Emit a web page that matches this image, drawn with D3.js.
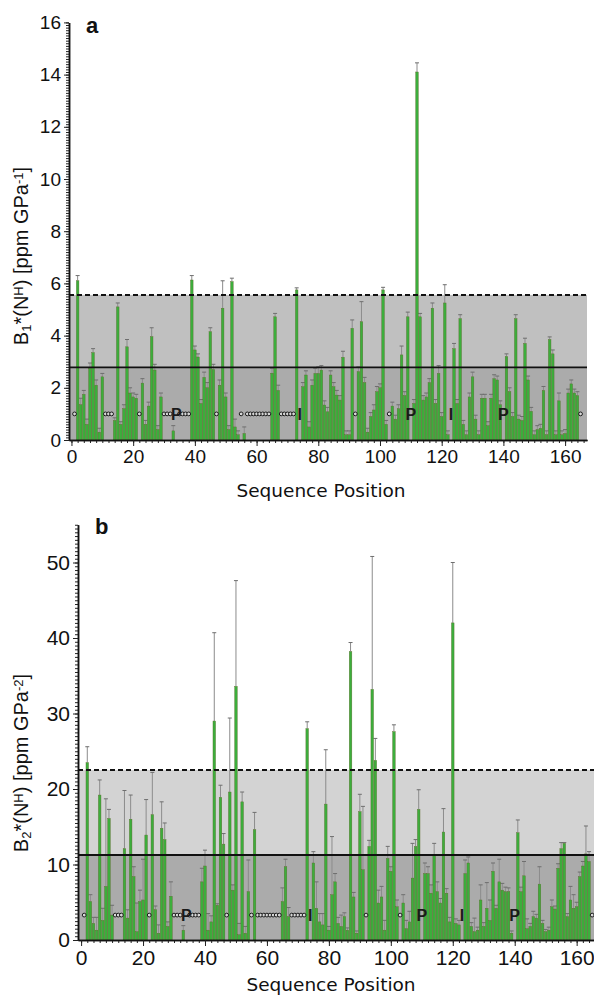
<!DOCTYPE html>
<html>
<head>
<meta charset="utf-8">
<script src="https://cdn.jsdelivr.net/npm/d3@7"></script>
<style>
  body { margin: 0; background: #fff; }
  text { font-family: "Liberation Sans", Arial, sans-serif; }
</style>
</head>
<body>
<div id="chart"></div>
<script>
// residue numbers 1..165
const positions = d3.range(1, 166);

// residues without data (drawn as small circles) and special residues
const noDataPositions = [1, 11, 12, 13, 22, 30, 31, 32, 35, 36, 37, 38, 47, 55,
    57, 58, 59, 60, 61, 62, 63, 64, 68, 69, 70, 71, 72, 92, 103, 165];
const markPositions = [34, 74, 110, 123, 140];
const markLabels = ['P', 'I', 'P', 'I', 'P'];

// B1* values, index 0 = residue 1
const b1Values = [
    null, 6.10, 1.35, 1.75, 0.60, 2.75, 3.35, 2.10, 0.30, 2.42,
    null, null, null, 0.75, 5.10, 0.60, 1.20, 3.57, 1.80, 1.65,
    1.60, null, 2.18, 0.60, 1.30, 3.96, 2.68, 0.40, 1.65, null,
    null, null, 0.35, null, null, null, null, null, 6.13, 3.45,
    3.18, 1.40, 2.40, 2.00, 4.15, 2.70, null, 2.10, 5.05, 1.65,
    0.40, 6.07, 0.50, 0.20, null, 0.25, null, null, null, null,
    null, null, null, null, 2.56, 4.72, 1.90, null, null, null,
    null, null, 5.75, null, 2.04, 2.49, 0.50, 2.10, 2.55, 2.55,
    2.68, 1.34, 1.08, 2.49, 2.04, 1.72, 1.53, 3.17, 0.20, 0.20,
    4.28, null, 2.62, 4.53, 2.20, 0.30, 0.90, 1.15, 1.85, 2.00,
    5.75, 0.60, null, 1.30, 0.80, 1.20, 3.26, 1.70, 4.72, null,
    1.40, 14.10, 4.72, 1.53, 1.65, 2.20, 5.05, 1.40, 2.55, 0.90,
    5.25, 0.20, null, 3.50, 1.40, 4.65, 0.60, 0.20, 1.65, 2.42,
    0.80, 0.20, 1.60, 1.60, 0.55, 1.60, 2.35, 2.30, 1.35, null,
    3.20, 1.85, 0.90, 4.65, 0.80, 0.75, 3.70, 2.30, 1.10, 0.20,
    0.40, 0.45, 1.90, 0.20, 3.85, 3.30, 0.20, 1.50, 0.20, 0.25,
    1.80, 2.15, 1.80, 1.70, null
];
const b1Errors = [
    null, 0.20, 0.25, 0.15, 0.20, 0.20, 0.15, 0.20, 0.15, 0.13,
    null, null, null, 0.10, 0.15, 0.10, 0.15, 0.28, 0.20, 0.15,
    0.15, null, 0.17, 0.15, 0.15, 0.34, 0.22, 0.15, 0.15, null,
    null, null, 0.20, null, null, null, null, null, 0.17, 0.15,
    0.12, 0.15, 0.20, 0.20, 0.15, 0.20, null, 0.20, 1.05, 0.15,
    0.15, 0.13, 0.30, 0.15, null, 0.25, null, null, null, null,
    null, null, null, null, 0.19, 0.13, 0.20, null, null, null,
    null, null, 0.08, null, 0.16, 0.16, 0.20, 0.20, 0.20, 0.25,
    0.17, 0.16, 0.17, 0.16, 0.16, 0.18, 0.17, 0.23, 0.15, 0.15,
    0.32, null, 0.18, 0.77, 0.20, 0.15, 0.15, 0.20, 0.20, 0.15,
    0.10, 0.15, null, 0.15, 0.15, 0.15, 0.34, 0.15, 0.18, null,
    0.15, 0.35, 0.13, 0.17, 0.15, 0.15, 0.20, 0.15, 0.30, 0.15,
    0.70, 0.15, null, 0.20, 0.15, 0.15, 0.15, 0.15, 0.15, 0.18,
    0.15, 0.15, 0.15, 0.15, 0.15, 0.15, 0.15, 0.15, 0.15, null,
    0.10, 0.15, 0.15, 0.15, 0.15, 0.15, 0.20, 0.15, 0.15, 0.15,
    0.15, 0.15, 0.15, 0.15, 0.10, 0.15, 0.15, 0.30, 0.15, 0.15,
    0.15, 0.15, 0.15, 0.15, null
];

// B2* values
const b2Values = [
    null, 23.5, 5.1, 2.2, 1.3, 19.2, 2.6, 7.1, 16.1, 3.3,
    null, null, null, 12.1, 2.9, 16.0, 8.4, 1.1, 5.1, 5.3,
    13.9, null, 16.6, 4.0, 0.9, 14.8, 13.3, 1.8, 5.8, null,
    null, null, 1.3, null, null, null, null, null, 7.7, 9.8,
    1.3, 2.4, 29.0, 4.6, 18.9, 12.7, null, 19.6, 6.6, 33.6,
    0.7, 18.3, 0.9, 6.4, null, 14.6, null, null, null, null,
    null, null, null, null, 5.1, 9.7, 3.1, null, null, null,
    null, null, 28.0, null, 10.2, 4.2, 2.4, 2.0, 18.0, 1.3,
    6.0, 7.7, 2.2, 1.8, 3.1, 1.3, 38.2, 5.7, 0.9, 17.0,
    9.3, null, 12.4, 33.2, 23.8, 4.9, 5.7, 1.3, 10.8, 9.1,
    27.6, 4.4, null, 4.9, 1.5, 2.4, 8.2, 12.4, 17.3, null,
    8.8, 8.8, 6.2, 11.3, 6.4, 4.9, 14.3, 6.2, 2.4, 42.0,
    2.2, 2.0, null, 8.8, 10.2, 1.8, 1.1, 1.3, 5.3, 1.8,
    4.2, 2.6, 9.1, 4.2, 7.7, 6.6, 6.4, 6.4, 0.9, null,
    14.2, 6.4, 8.5, 1.5, 1.8, 3.1, 2.9, 7.4, 2.2, 1.1,
    1.3, 4.4, 4.1, 9.5, 12.1, 12.8, 3.1, 5.3, 4.2, 4.4,
    8.4, 9.8, 11.4, 10.4, null
];
const b2Errors = [
    null, 2.1, 0.9, 0.8, 1.7, 2.0, 1.6, 11.6, 1.2, 1.3,
    null, null, null, 7.7, 1.1, 3.2, 1.3, 3.8, 1.5, 5.4,
    4.7, null, 5.6, 0.5, 1.1, 3.5, 2.2, 0.6, 1.9, null,
    null, null, 0.6, null, null, null, null, null, 1.8, 2.1,
    2.2, 0.8, 11.7, 0.2, 1.6, 1.4, null, 9.8, 0.7, 14.0,
    1.5, 1.3, 0.9, 4.2, null, 2.3, null, null, null, null,
    null, null, null, null, 1.8, 1.0, 1.2, null, null, null,
    null, null, 0.9, null, 1.5, 3.5, 1.1, 1.5, 7.2, 0.5,
    7.7, 1.1, 0.8, 1.5, 0.5, 0.3, 1.2, 0.6, 0.3, 2.3,
    8.4, null, 0.8, 17.6, 2.9, 1.7, 1.4, 1.3, 1.6, 0.6,
    0.9, 0.9, null, 1.1, 1.1, 1.4, 4.6, 0.9, 2.6, null,
    1.4, 0.9, 1.1, 1.5, 1.3, 0.6, 3.1, 0.6, 0.6, 8.0,
    0.6, 0.6, null, 1.8, 0.8, 0.5, 1.8, 0.4, 2.0, 0.5,
    3.4, 2.7, 1.1, 0.4, 3.0, 0.9, 0.6, 0.5, 0.3, null,
    1.7, 0.6, 1.9, 1.3, 0.4, 0.7, 0.5, 2.3, 0.4, 0.3,
    0.4, 0.9, 0.4, 0.6, 0.8, 0.1, 0.4, 1.8, 1.8, 0.6,
    0.6, 0.6, 3.7, 1.3, null
];

// mean (solid line) and twice the mean (dashed line)
const b1Mean = 2.78;
const b2Mean = 11.26;

const width = 594, height = 997;

const svg = d3.select('#chart').append('svg')
    .attr('width', width)
    .attr('height', height);

function drawPanel(opt) {
    let g = svg.append('g');

    let x = d3.scaleLinear().domain(opt.xDomain).range(opt.xRange);
    let y = d3.scaleLinear().domain(opt.yDomain).range(opt.yRange);

    let left = opt.xRange[0], right = opt.xRange[1];

    // shaded bands
    g.append('rect')
        .attr('x', left).attr('width', right - left)
        .attr('y', y(opt.mean * 2)).attr('height', y(opt.mean) - y(opt.mean * 2))
        .attr('fill', opt.upperBand);
    g.append('rect')
        .attr('x', left).attr('width', right - left)
        .attr('y', y(opt.mean)).attr('height', y(0) - y(opt.mean))
        .attr('fill', '#ababab');

    let data = positions.map((p, i) => ({ p: p, v: opt.values[i], e: opt.errors[i] }))
        .filter(d => d.v != null);

    let barW = 2.6;

    // error bars (upper only)
    g.selectAll('.err').data(data).enter()
        .append('line')
        .attr('x1', d => x(d.p)).attr('x2', d => x(d.p))
        .attr('y1', d => y(d.v)).attr('y2', d => y(d.v + d.e))
        .attr('stroke', '#8c8c8c').attr('stroke-width', 1);
    g.selectAll('.cap').data(data).enter()
        .append('line')
        .attr('x1', d => x(d.p) - 2).attr('x2', d => x(d.p) + 2)
        .attr('y1', d => y(d.v + d.e)).attr('y2', d => y(d.v + d.e))
        .attr('stroke', '#6e6e6e').attr('stroke-width', 1);

    // bars
    g.selectAll('.bar').data(data).enter()
        .append('rect')
        .attr('x', d => x(d.p) - barW / 2)
        .attr('width', barW)
        .attr('y', d => y(d.v))
        .attr('height', d => y(0) - y(d.v))
        .attr('fill', '#3cae3c')
        .attr('stroke', '#5d6b2c')
        .attr('stroke-width', 0.4);

    // mean and 2x mean lines
    g.append('line')
        .attr('x1', left).attr('x2', right)
        .attr('y1', y(opt.mean)).attr('y2', y(opt.mean))
        .attr('stroke', '#111').attr('stroke-width', 1.8);
    g.append('line')
        .attr('x1', left).attr('x2', right)
        .attr('y1', y(opt.mean * 2)).attr('y2', y(opt.mean * 2))
        .attr('stroke', '#111').attr('stroke-width', 2)
        .attr('stroke-dasharray', '5,3');

    // residues without data
    g.selectAll('.nd').data(noDataPositions).enter()
        .append('circle')
        .attr('cx', d => x(d))
        .attr('cy', y(opt.markLevel))
        .attr('r', 1.9)
        .attr('fill', '#d8d8d8')
        .attr('stroke', '#1a1a1a')
        .attr('stroke-width', 1);

    g.selectAll('.mk').data(markPositions).enter()
        .append('text')
        .attr('x', d => x(d))
        .attr('y', y(opt.markLevel) + 6)
        .attr('text-anchor', 'middle')
        .style('font-size', '16px')
        .style('font-weight', 'bold')
        .attr('fill', '#1a1a1a')
        .text((d, i) => markLabels[i]);

    // axes
    let xMinor = d3.axisBottom(x)
        .tickValues(d3.range(0, opt.xDomain[1], 2))
        .tickSize(3).tickSizeOuter(0).tickFormat('');
    let xMajor = d3.axisBottom(x)
        .tickValues(d3.range(0, 161, 20))
        .tickSize(6).tickSizeOuter(0).tickPadding(4)
        .tickFormat(d3.format('d'));
    let yMinor = d3.axisLeft(y)
        .tickValues(d3.range(0, opt.yDomain[1] + 1e-6, opt.yMinorStep))
        .tickSize(3).tickSizeOuter(0).tickFormat('');
    let yMajor = d3.axisLeft(y)
        .tickValues(opt.yTicks)
        .tickSize(5).tickSizeOuter(0).tickPadding(3)
        .tickFormat(d3.format('d'));

    let ax = g.append('g').attr('transform', `translate(0,${y(0)})`);
    ax.call(xMinor);
    ax.append('g').call(xMajor);
    let ay = g.append('g').attr('transform', `translate(${left},0)`);
    ay.call(yMinor);
    ay.append('g').call(yMajor);

    g.selectAll('.domain').attr('stroke', '#111').attr('stroke-width', 1.5);
    g.selectAll('.tick line').attr('stroke', '#222');
    g.selectAll('.tick text')
        .style('font-family', '"Liberation Sans", Arial, sans-serif')
        .style('font-size', opt.tickFont + 'px')
        .attr('fill', '#111');

    // x title
    g.append('text')
        .attr('x', opt.xTitlePos[0]).attr('y', opt.xTitlePos[1])
        .attr('text-anchor', 'middle')
        .style('font-family', '"DejaVu Sans", Verdana, sans-serif')
        .style('font-size', '18.5px')
        .attr('fill', '#111')
        .text('Sequence Position');

    // y title
    let yt = g.append('text')
        .attr('transform', `translate(${opt.yTitlePos[0]},${opt.yTitlePos[1]}) rotate(-90)`)
        .attr('text-anchor', 'middle')
        .style('font-size', '20px')
        .attr('fill', '#111');
    yt.append('tspan').text('B');
    yt.append('tspan').attr('baseline-shift', '-25%').style('font-size', '13px').text(opt.sub);
    yt.append('tspan').text('*(N');
    yt.append('tspan').attr('baseline-shift', '40%').style('font-size', '13px').text('H');
    yt.append('tspan').text(') [ppm GPa');
    yt.append('tspan').attr('baseline-shift', '40%').style('font-size', '13px').text(opt.sup);
    yt.append('tspan').text(']');

    // panel letter
    g.append('text')
        .attr('x', opt.letterPos[0]).attr('y', opt.letterPos[1])
        .style('font-size', '22px')
        .style('font-weight', 'bold')
        .attr('fill', '#111')
        .text(opt.letter);
}

drawPanel({
    values: b1Values, errors: b1Errors, mean: b1Mean,
    xDomain: [-0.8, 167.1], xRange: [69, 587],
    yDomain: [0, 16], yRange: [440, 22.4],
    yTicks: d3.range(0, 17, 2), yMinorStep: 0.1,
    upperBand: '#c0c0c0', markLevel: 1.0, tickFont: 19,
    xTitlePos: [321, 497], yTitlePos: [28, 256], sub: '1', sup: '-1',
    letter: 'a', letterPos: [86, 33]
});

drawPanel({
    values: b2Values, errors: b2Errors, mean: b2Mean,
    xDomain: [-1, 165.6], xRange: [78, 594],
    yDomain: [0, 55], yRange: [940, 524.75],
    yTicks: d3.range(0, 51, 10), yMinorStep: 0.5,
    upperBand: '#d3d3d3', markLevel: 3.3, tickFont: 21,
    xTitlePos: [331, 991], yTitlePos: [28, 763], sub: '2', sup: '-2',
    letter: 'b', letterPos: [95, 534]
});
</script>
</body>
</html>
